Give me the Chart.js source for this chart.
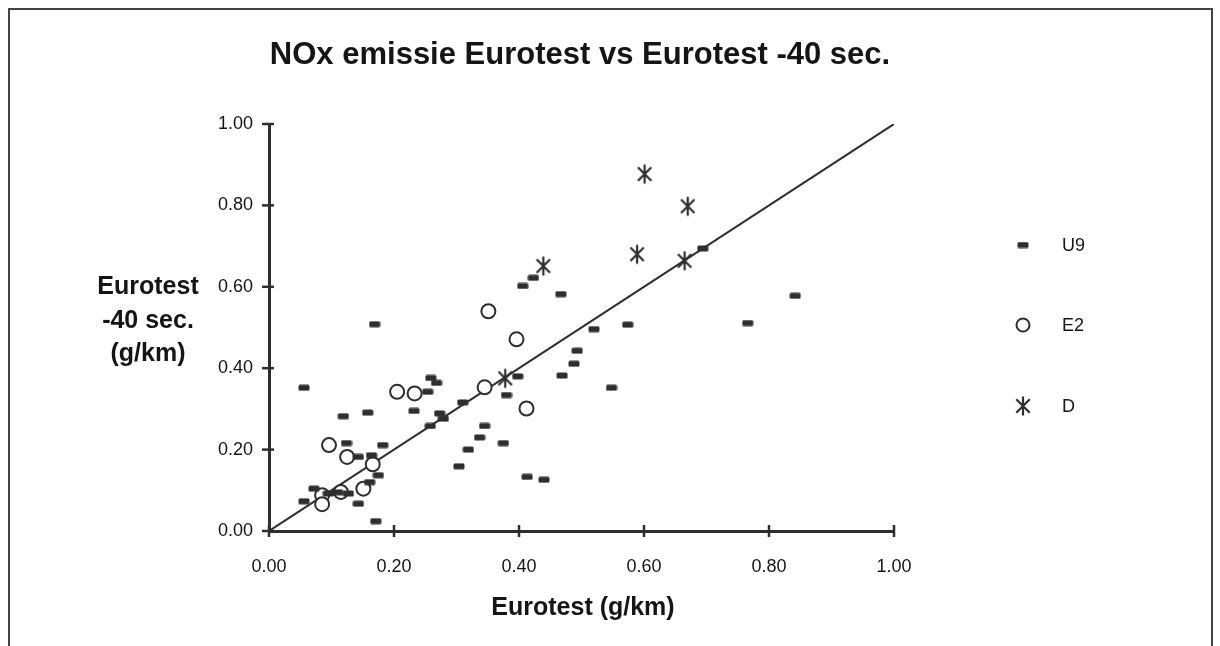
<!DOCTYPE html>
<html><head><meta charset="utf-8">
<script src="https://cdn.jsdelivr.net/npm/chart.js@4"></script>
<style>html,body{margin:0;padding:0;background:#fff}#wrap{width:1220px;height:646px;position:relative}</style>
</head><body><div id="wrap"><canvas id="c" width="1220" height="646"></canvas></div>
<script>
const chartTitle = "NOx emissie Eurotest vs Eurotest -40 sec.";
const xAxisTitle = "Eurotest (g/km)";
const yAxisTitleLines = ["Eurotest", "-40 sec.", "(g/km)"];
const xTickValues = [0, 0.2, 0.4, 0.6, 0.8, 1.0];
const yTickValues = [0, 0.2, 0.4, 0.6, 0.8, 1.0];
const seriesNames = ["U9", "E2", "D"];

const u9X = [0.056,0.119,0.158,0.232,0.254,0.259,0.268,0.273,0.279,0.258,0.310,0.319,0.304,0.337,0.345,0.375,0.413,0.440,0.380,0.398,0.469,0.488,0.493,0.520,0.548,0.574,0.467,0.406,0.423,0.694,0.766,0.842,0.169,0.124,0.182,0.143,0.164,0.175,0.161,0.143,0.171,0.056,0.072,0.095,0.127,0.110];
const u9Y = [0.352,0.282,0.291,0.295,0.342,0.376,0.364,0.289,0.276,0.258,0.316,0.200,0.159,0.230,0.258,0.216,0.133,0.126,0.334,0.380,0.382,0.411,0.443,0.496,0.352,0.507,0.582,0.602,0.622,0.694,0.511,0.578,0.508,0.216,0.211,0.182,0.186,0.137,0.120,0.067,0.024,0.073,0.104,0.092,0.092,0.095];

const e2X = [0.205,0.233,0.096,0.125,0.166,0.151,0.115,0.085,0.085,0.351,0.396,0.345,0.412];
const e2Y = [0.342,0.338,0.211,0.182,0.164,0.104,0.096,0.088,0.066,0.540,0.471,0.353,0.301];

const dX = [0.439,0.601,0.670,0.589,0.665,0.378];
const dY = [0.651,0.877,0.798,0.680,0.664,0.375];

const lineX = [0, 1];
const lineY = [0, 1];

const INK = "#2e2e2e";
const TXT = "#151515";
const FONT = "'Liberation Sans', Arial, sans-serif";
const pts = (xs, ys) => xs.map((x, i) => ({x: x, y: ys[i]}));

function makeDash() {
  const c = document.createElement("canvas"); c.width = 12; c.height = 7;
  const g = c.getContext("2d"); g.fillStyle = INK;
  g.beginPath(); if (g.roundRect) g.roundRect(0.5, 0.5, 11, 6, 1.5); else g.rect(0.5,0.5,11,6); g.fill();
  return c;
}
function makeStar() {
  const c = document.createElement("canvas"); c.width = 22; c.height = 22;
  const g = c.getContext("2d"); g.strokeStyle = INK; g.lineWidth = 2.2; g.lineCap = "butt";
  const r = 9.5, cx = 11, cy = 11;
  g.beginPath();
  g.moveTo(cx, cy - r); g.lineTo(cx, cy + r);
  const a = Math.PI / 4;
  g.moveTo(cx - r*Math.sin(a), cy - r*Math.cos(a)); g.lineTo(cx + r*Math.sin(a), cy + r*Math.cos(a));
  g.moveTo(cx + r*Math.sin(a), cy - r*Math.cos(a)); g.lineTo(cx - r*Math.sin(a), cy + r*Math.cos(a));
  g.stroke();
  return c;
}
const dashImg = makeDash();
const starImg = makeStar();

const decor = {
  id: "decor",
  beforeDraw(chart) {
    const ctx = chart.ctx;
    ctx.save();
    ctx.fillStyle = "#fff"; ctx.fillRect(0, 0, chart.width, chart.height);
    ctx.strokeStyle = "#444"; ctx.lineWidth = 2;
    ctx.beginPath();
    ctx.moveTo(9, 646); ctx.lineTo(9, 9); ctx.lineTo(1212, 9); ctx.lineTo(1212, 646);
    ctx.stroke();
    ctx.restore();
  },
  afterDraw(chart) {
    const ctx = chart.ctx;
    const xs = chart.scales.x, ys = chart.scales.y;
    ctx.save();
    ctx.strokeStyle = INK; ctx.lineWidth = 2.5;
    const x0 = xs.getPixelForValue(0), y0 = ys.getPixelForValue(0);
    xTickValues.forEach(v => {
      const px = xs.getPixelForValue(v);
      ctx.beginPath(); ctx.moveTo(px, y0 - 6); ctx.lineTo(px, y0 + 6); ctx.stroke();
    });
    yTickValues.forEach(v => {
      const py = ys.getPixelForValue(v);
      ctx.beginPath(); ctx.moveTo(x0 - 7, py); ctx.lineTo(x0 + 5, py); ctx.stroke();
    });
    ctx.fillStyle = TXT;
    ctx.textAlign = "center"; ctx.textBaseline = "middle";
    ctx.font = "bold 31px " + FONT;
    ctx.fillText(chartTitle, 580, 55);
    ctx.font = "bold 25px " + FONT;
    ctx.fillText(xAxisTitle, 583, 608);
    const ly = [287, 321, 354];
    yAxisTitleLines.forEach((t, i) => ctx.fillText(t, 148, ly[i]));
    const legY = [245, 325, 406];
    const lx = 1023;
    ctx.drawImage(dashImg, lx - 6, legY[0] - 3.5);
    ctx.beginPath(); ctx.arc(lx, legY[1], 6.5, 0, Math.PI*2);
    ctx.fillStyle = "#fff"; ctx.fill(); ctx.lineWidth = 2; ctx.strokeStyle = INK; ctx.stroke();
    ctx.drawImage(starImg, lx - 11, legY[2] - 11);
    ctx.fillStyle = TXT; ctx.textAlign = "left";
    ctx.font = "18px " + FONT;
    seriesNames.forEach((n, i) => ctx.fillText(n, 1062, legY[i] + 1));
    ctx.restore();
  }
};

new Chart(document.getElementById("c"), {
  type: "scatter",
  data: {
    datasets: [
      { type: "line", label: "y=x", data: pts(lineX, lineY), borderColor: INK, borderWidth: 2, pointRadius: 0, fill: false, order: 5 },
      { label: seriesNames[0], data: pts(u9X, u9Y), pointStyle: dashImg, pointRadius: 6, order: 1 },
      { label: seriesNames[1], data: pts(e2X, e2Y), pointStyle: "circle", pointRadius: 7, borderWidth: 2, borderColor: INK, backgroundColor: "#fff", order: 2 },
      { label: seriesNames[2], data: pts(dX, dY), pointStyle: starImg, pointRadius: 10, order: 3 }
    ]
  },
  options: {
    responsive: false,
    animation: false,
    devicePixelRatio: 1,
    layout: { padding: { left: 0, right: 326, top: 124, bottom: 0 } },
    plugins: { legend: { display: false }, tooltip: { enabled: false }, title: { display: false } },
    scales: {
      x: {
        type: "linear", min: 0, max: 1,
        afterBuildTicks: s => { s.ticks = xTickValues.map(v => ({ value: v })); },
        afterFit: s => { s.height = 115; },
        grid: { display: false, drawTicks: false },
        border: { display: true, color: INK, width: 3 },
        ticks: { color: TXT, padding: 25, font: { family: FONT, size: 18 }, callback: v => Number(v).toFixed(2) }
      },
      y: {
        type: "linear", min: 0, max: 1,
        afterBuildTicks: s => { s.ticks = yTickValues.map(v => ({ value: v })); },
        afterFit: s => { s.width = 269; },
        grid: { display: false, drawTicks: false },
        border: { display: true, color: INK, width: 3 },
        ticks: { color: TXT, padding: 16, font: { family: FONT, size: 18 }, callback: v => Number(v).toFixed(2) }
      }
    }
  },
  plugins: [decor]
});
</script></body></html>
